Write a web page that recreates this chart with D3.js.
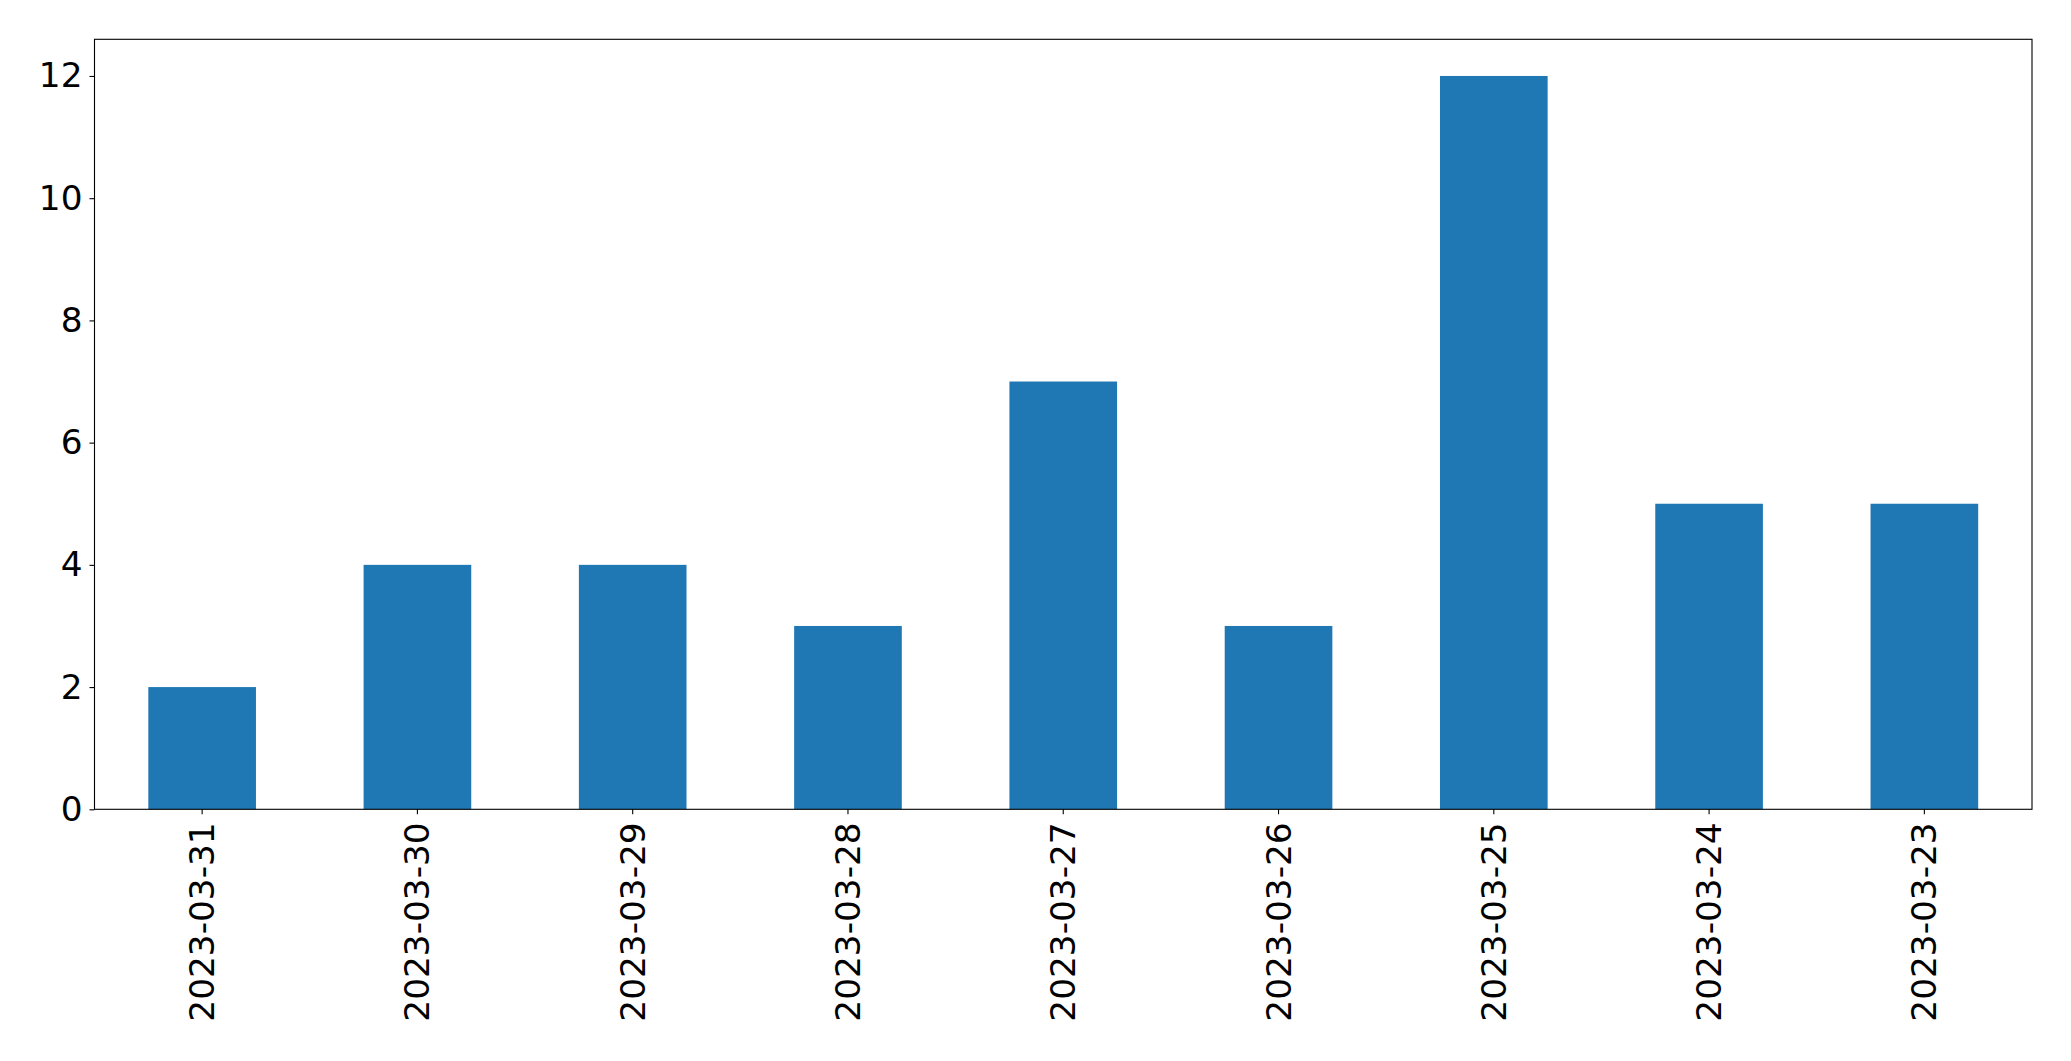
<!DOCTYPE html>
<html><head><meta charset="utf-8">
<script src="https://cdn.jsdelivr.net/npm/d3@7"></script>
<style>body{margin:0;background:#fff}svg{display:block}text{font-family:"DejaVu Sans",sans-serif}</style>
</head><body><svg id="c" width="2071" height="1061"></svg>
<script>
const categories = ["2023-03-31","2023-03-30","2023-03-29","2023-03-28","2023-03-27","2023-03-26","2023-03-25","2023-03-24","2023-03-23"];
const values = [2,4,4,3,7,3,12,5,5];
const yTicks = [0,2,4,6,8,10,12];

const svg = d3.select("#c");
const L = 94.5, R = 2032, T = 39.3, B = 809.3;
const x = d3.scaleBand().domain(categories).range([L, R]).paddingInner(0.5).paddingOuter(0.25);
const y = d3.scaleLinear().domain([0, 12.6]).range([B, T]);

svg.append("g").selectAll("rect").data(values).join("rect")
  .attr("x", (d,i) => x(categories[i]))
  .attr("width", x.bandwidth())
  .attr("y", d => y(d))
  .attr("height", d => y(0) - y(d))
  .attr("fill", "#1f77b4");

const ya = svg.append("g").attr("transform", `translate(${L},0)`)
  .call(d3.axisLeft(y).tickValues(yTicks).tickSize(5).tickPadding(7).tickFormat(d3.format("d")));
ya.select(".domain").remove();
ya.selectAll("text").attr("font-size", "34.3px").attr("fill", "#000").attr("font-family", "DejaVu Sans");
ya.selectAll("line").attr("stroke", "#000").attr("stroke-width", 1.1);

const xa = svg.append("g").attr("transform", `translate(0,${B})`)
  .call(d3.axisBottom(x).tickSize(5).tickPadding(0));
xa.select(".domain").remove();
xa.selectAll("line").attr("stroke", "#000").attr("stroke-width", 1.1);
xa.selectAll("text").attr("font-size", "34.3px").attr("fill", "#000").attr("font-family", "DejaVu Sans")
  .attr("text-anchor", "end").attr("dy", null)
  .attr("transform", "translate(0,13) rotate(-90)")
  .attr("x", 0).attr("y", 0).attr("dominant-baseline", "central");

svg.append("rect").attr("x", L).attr("y", T).attr("width", R - L).attr("height", B - T)
  .attr("fill", "none").attr("stroke", "#000").attr("stroke-width", 1.1);
</script></body></html>
